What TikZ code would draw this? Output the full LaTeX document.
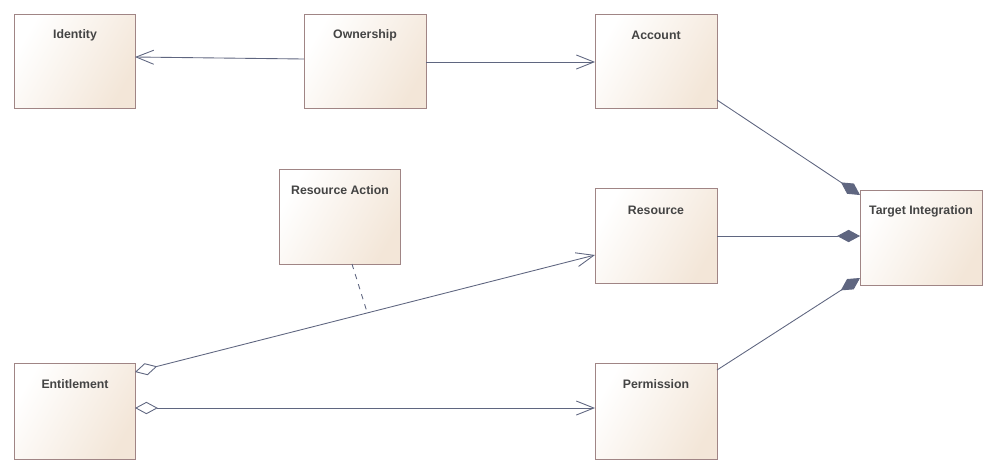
\documentclass[tikz,border=0pt]{standalone}
\usepackage{fontspec}
\setmainfont{Liberation Sans}
\usetikzlibrary{arrows.meta,calc}
\definecolor{boxline}{HTML}{A08585}
\definecolor{boxfill}{HTML}{F3E6D8}
\definecolor{linkline}{HTML}{5F6680}
\definecolor{labeltext}{HTML}{444444}
\tikzset{
  cls/.style={draw=boxline, left color=white, right color=boxfill, shading angle=60},
  lbl/.style={font=\fontsize{7}{8}\selectfont\bfseries, text=labeltext},
  link/.style={draw=linkline, line width=0.5pt},
  open/.style={-{Straight Barb[length=10pt,width=8pt]}},
  owns/.style={{Diamond[length=13pt,width=7pt,fill=linkline]}-},
  has/.style={{Diamond[length=13pt,width=7pt,open,fill=white]}-{Straight Barb[length=10pt,width=8pt]}}
}
\begin{document}
\begin{tikzpicture}[x=0.02cm,y=-0.02cm]
\useasboundingbox (0,0) rectangle (999,474);

% classes
\shade[cls] (14,14) rectangle (135,108);
\draw[boxline] (14,14) rectangle (135,108);
\node[lbl] (identity) at (75,35) {Identity};
\shade[cls] (304,14) rectangle (426,108);
\draw[boxline] (304,14) rectangle (426,108);
\node[lbl] (ownership) at (365,35) {Ownership};
\shade[cls] (595,14) rectangle (717,108);
\draw[boxline] (595,14) rectangle (717,108);
\node[lbl] (account) at (656,35) {Account};
\shade[cls] (279,169) rectangle (400,264);
\draw[boxline] (279,169) rectangle (400,264);
\node[lbl] (action) at (340,190) {Resource Action};
\shade[cls] (595,188) rectangle (717,283);
\draw[boxline] (595,188) rectangle (717,283);
\node[lbl] (resource) at (656,210) {Resource};
\shade[cls] (860,190) rectangle (982,285);
\draw[boxline] (860,190) rectangle (982,285);
\node[lbl] (target) at (921,211) {Target Integration};
\shade[cls] (14,363) rectangle (135,459);
\draw[boxline] (14,363) rectangle (135,459);
\node[lbl] (entitlement) at (75,384) {Entitlement};
\shade[cls] (595,363) rectangle (717,459);
\draw[boxline] (595,363) rectangle (717,459);
\node[lbl] (permission) at (656,384) {Permission};

% connectors
\draw[link,open] (304,59) coordinate (o1) -- (135,57) coordinate (i1);
\draw[link,open] (426,62) coordinate (o2) -- (595,62) coordinate (a1);
\draw[link,owns] (860,195) coordinate (t1) -- (717,100) coordinate (a2);
\draw[link,owns] (860,236) coordinate (t2) -- (717,236) coordinate (r1);
\draw[link,owns] (860,278) coordinate (t3) -- (717,370) coordinate (p1);
\draw[link,has] (135,372) coordinate (e1) -- (595,255) coordinate (r2);
\draw[link,has] (135,408) coordinate (e2) -- (595,408) coordinate (p2);
\coordinate (ra) at (352,264);
\coordinate (mid) at ($(e1)!0.505!(r2)$);
\draw[link,dashed] (ra) -- (mid);
\end{tikzpicture}
\end{document}
